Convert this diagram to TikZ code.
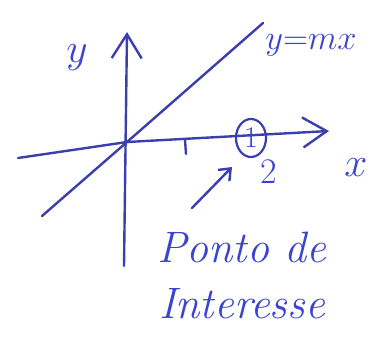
\documentclass[tikz,border=0pt]{standalone}
\usepackage{tikz}
\usetikzlibrary{arrows.meta,positioning,shapes.geometric}
\definecolor{vpen}{HTML}{3B3FAE}
\definecolor{vink}{HTML}{3A44CC}
\tikzset{
  axis/.style={line width=1.2pt,draw=vpen,line cap=round,line join=round},
  axarr/.style={axis,-{Straight Barb[length=12pt,width=15pt]}},
  parr/.style={axis,-{Straight Barb[length=5pt,width=8pt]}},
  lbl/.style={text=vink,inner sep=0pt,font=\fontsize{22}{26}\selectfont},
  slbl/.style={text=vink,inner sep=0pt,font=\fontsize{18}{21}\selectfont},
  ring/.style={ellipse,draw=vpen,line width=1.1pt,minimum width=15pt,minimum height=19pt,inner sep=0pt,text=vink,font=\fontsize{15}{17}\selectfont},
  note/.style={text=vink,align=center,inner sep=0pt,font=\fontsize{22}{28}\selectfont\itshape},
}
\begin{document}
\begin{tikzpicture}[x=0.5pt,y=-0.5pt]
  \useasboundingbox (0,0) rectangle (390,349);
  \coordinate (O) at (127,142);
  \coordinate (xL) at (18,158);
  \coordinate (xR) at (329,131);
  \coordinate (yB) at (124,266);
  \coordinate (yT) at (127,32);
  \coordinate (lA) at (42,216);
  \coordinate (lB) at (263,23);
  \coordinate (tkA) at (185,140);
  \coordinate (tkB) at (186,154);
  \coordinate (aS) at (192,208);
  \coordinate (aE) at (232,167);
  \draw[axarr] (yB) -- (yT);
  \draw[axarr] (xL) -- (O) -- (xR);
  \draw[axis] (lA) -- (O) -- (lB);
  \draw[axis] (tkA) -- (tkB);
  \node[ring] (pt) at (251,138) {1};
  \draw[parr] (aS) -- (aE);
  \node[lbl] (ylab) at (77,58) {$y$};
  \node[slbl] (eq) at (311,45) {$y{=}mx$};
  \node[lbl] (xlab) at (356,168) {$x$};
  \node[slbl] (two) at (269,172) {2};
  \node[note] (poi) at (242,275) {Ponto de\\Interesse};
\end{tikzpicture}
\end{document}
